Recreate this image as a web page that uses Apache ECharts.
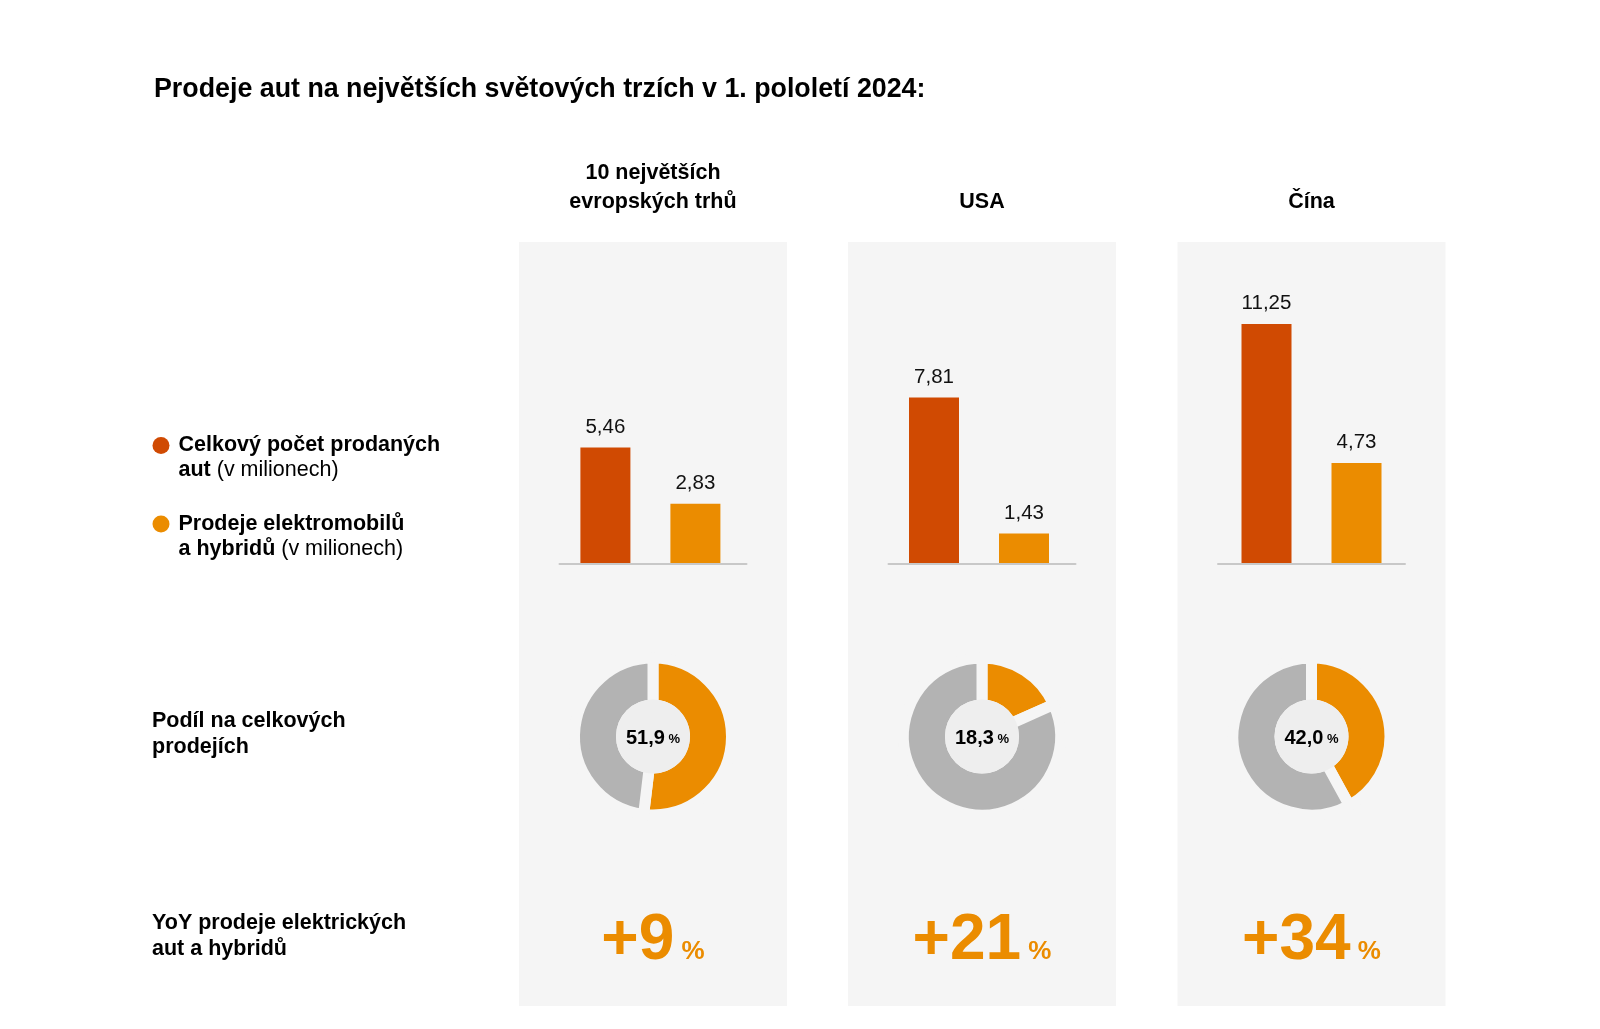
<!DOCTYPE html>
<html>
<head>
<meta charset="utf-8">
<script src="https://cdn.jsdelivr.net/npm/echarts@6/dist/echarts.min.js"></script>
<style>
  html, body { margin: 0; padding: 0; background: #ffffff; }
  #chart { width: 1600px; height: 1029px; }
</style>
</head>
<body>
<div id="chart"></div>
<script>
// ---- data ----
const chartTitle = 'Prodeje aut na největších světových trzích v 1. pololetí 2024:';
const regions = ['10 největších\nevropských trhů', 'USA', 'Čína'];
const seriesNames = ['Celkový počet prodaných aut', 'Prodeje elektromobilů a hybridů'];
const totalSales = [5.46, 7.81, 11.25];   // mil.
const evSales = [2.83, 1.43, 4.73];       // mil.
const evShare = [51.9, 18.3, 42.0];       // %
const yoyGrowth = [9, 21, 34];            // %
const legendBold = [['Celkový počet prodaných', 'aut'], ['Prodeje elektromobilů', 'a hybridů']];
const unitNote = '(v milionech)';
const rowLabels = ['Podíl na celkových\nprodejích', 'YoY prodeje elektrických\naut a hybridů'];

// ---- styling / layout ----
const FONT = "'Liberation Sans', Arial, Helvetica, sans-serif";
const RED = '#D04A02';
const ORANGE = '#EB8C00';
const RING_GRAY = '#B3B3B3';
const PANEL_BG = '#F5F5F5';
const DISC_BG = '#EEEEEE';
const cxs = [653, 982, 1311.5];
const barShift = [-2.6, -3, 0];

const fmt = (v, d) => v.toFixed(d).replace('.', ',');

const grids = [], xAxes = [], yAxes = [], series = [], graphics = [];

cxs.forEach((cx, i) => {
  // panel background
  graphics.push({ type: 'rect', z: -10, silent: true,
    shape: { x: cx - 134, y: 242, width: 268, height: 764 },
    style: { fill: PANEL_BG } });
  // header
  graphics.push({ type: 'text', silent: true, x: cx, y: 216.5,
    style: { text: regions[i], align: 'center', verticalAlign: 'bottom',
      fontSize: 21.5, fontWeight: 'bold', fontFamily: FONT, lineHeight: 29, fill: '#000' } });
  // YoY big number
  graphics.push({ type: 'text', silent: true, x: cx, y: 941,
    style: { text: '{b|+' + yoyGrowth[i] + '}{p| %}', align: 'center', verticalAlign: 'middle',
      rich: {
        b: { fontSize: 64, fontWeight: 'bold', fontFamily: FONT, lineHeight: 64, fill: ORANGE, color: ORANGE },
        p: { fontSize: 26, fontWeight: 'bold', fontFamily: FONT, lineHeight: 26, fill: ORANGE, color: ORANGE,
             verticalAlign: 'bottom', padding: [0, 0, 8, 0] }
      } } });

  // grid 2i: bars ; grid 2i+1: baseline axis
  grids.push({ left: cx - 93.5 + barShift[i], top: 308, width: 187, height: 256, outerBoundsMode: 'none' });
  grids.push({ left: cx - 93.5, top: 308, width: 187, height: 256, outerBoundsMode: 'none' });
  xAxes.push({ type: 'category', gridIndex: 2 * i, data: [''],
    axisLine: { show: false }, axisTick: { show: false }, axisLabel: { show: false }, splitLine: { show: false } });
  xAxes.push({ type: 'category', gridIndex: 2 * i + 1, data: [''], z: 5,
    axisLine: { show: true, lineStyle: { color: '#C8C8C8', width: 2 } },
    axisTick: { show: false }, axisLabel: { show: false }, splitLine: { show: false } });
  yAxes.push({ type: 'value', gridIndex: 2 * i, min: 0, max: 12, show: false, splitLine: { show: false } });
  yAxes.push({ type: 'value', gridIndex: 2 * i + 1, min: 0, max: 12, show: false, splitLine: { show: false } });

  const barLabel = { show: true, position: 'top', distance: 10, fontSize: 20.5, fontFamily: FONT,
    color: '#111', formatter: p => fmt(p.value, 2) };
  series.push({ type: 'bar', name: seriesNames[0], xAxisIndex: 2 * i, yAxisIndex: 2 * i,
    data: [totalSales[i]], barWidth: 50, barGap: '80%', itemStyle: { color: RED },
    label: barLabel, silent: true });
  series.push({ type: 'bar', name: seriesNames[1], xAxisIndex: 2 * i, yAxisIndex: 2 * i,
    data: [evSales[i]], barWidth: 50, barGap: '80%', itemStyle: { color: ORANGE },
    label: barLabel, silent: true });

  // donut ring
  series.push({ type: 'pie', center: [cx, 736.5], radius: [31.5, 78.5], startAngle: 90, clockwise: true,
    silent: true, label: { show: false }, labelLine: { show: false }, emphasis: { disabled: true },
    itemStyle: { borderColor: PANEL_BG, borderWidth: 11 },
    data: [
      { name: 'share', value: evShare[i], itemStyle: { color: ORANGE } },
      { name: 'rest', value: 100 - evShare[i], itemStyle: { color: RING_GRAY } }
    ] });
  // inner disc with value
  series.push({ type: 'pie', z: 3, center: [cx, 736.5], radius: [0, 37], silent: true,
    emphasis: { disabled: true }, labelLine: { show: false },
    itemStyle: { color: DISC_BG },
    label: { show: true, position: 'center',
      formatter: () => '{v|' + fmt(evShare[i], 1) + '}{p| %}',
      rich: {
        v: { fontSize: 20, fontWeight: 'bold', fontFamily: FONT, color: '#000', lineHeight: 20, padding: [4, 0, 0, 0] },
        p: { fontSize: 13, fontWeight: 'bold', fontFamily: FONT, color: '#000', lineHeight: 13, verticalAlign: 'bottom', padding: [4, 0, 1, 0] }
      } },
    data: [{ name: 'disc', value: 1 }] });
});

rowLabels.forEach((t, k) => {
  graphics.push({ type: 'text', silent: true, x: 152, y: k === 0 ? 708 : 910,
    style: { text: t, align: 'left', verticalAlign: 'top', fontSize: 21.5, fontWeight: 'bold',
      fontFamily: FONT, lineHeight: 26, fill: '#000' } });
});

const legendText = {};
seriesNames.forEach((n, k) => {
  legendText[n] = '{b|' + legendBold[k][0] + '}\n{b|' + legendBold[k][1] + '}{r| ' + unitNote + '}';
});

const option = {
  animation: false,
  backgroundColor: '#ffffff',
  textStyle: { fontFamily: FONT },
  title: { text: chartTitle, left: 154, top: 76, padding: 0,
    textStyle: { fontSize: 26.8, fontWeight: 'bold', color: '#000', fontFamily: FONT } },
  legend: {
    data: seriesNames, orient: 'vertical', left: 152.5, top: 434.5, padding: 0,
    itemWidth: 25, itemHeight: 17, itemGap: 31.5, icon: 'circle', selectedMode: false,
    formatter: name => legendText[name],
    textStyle: { padding: [25, 0, 0, 0], fontFamily: FONT,
      rich: {
        b: { fontSize: 21.5, fontWeight: 'bold', lineHeight: 25, color: '#000', fontFamily: FONT },
        r: { fontSize: 21.5, fontWeight: 'normal', lineHeight: 25, color: '#000', fontFamily: FONT }
      } }
  },
  grid: grids, xAxis: xAxes, yAxis: yAxes, series: series,
  graphic: graphics
};

const chart = echarts.init(document.getElementById('chart'), null, { renderer: 'canvas' });
chart.setOption(option);
</script>
</body>
</html>
